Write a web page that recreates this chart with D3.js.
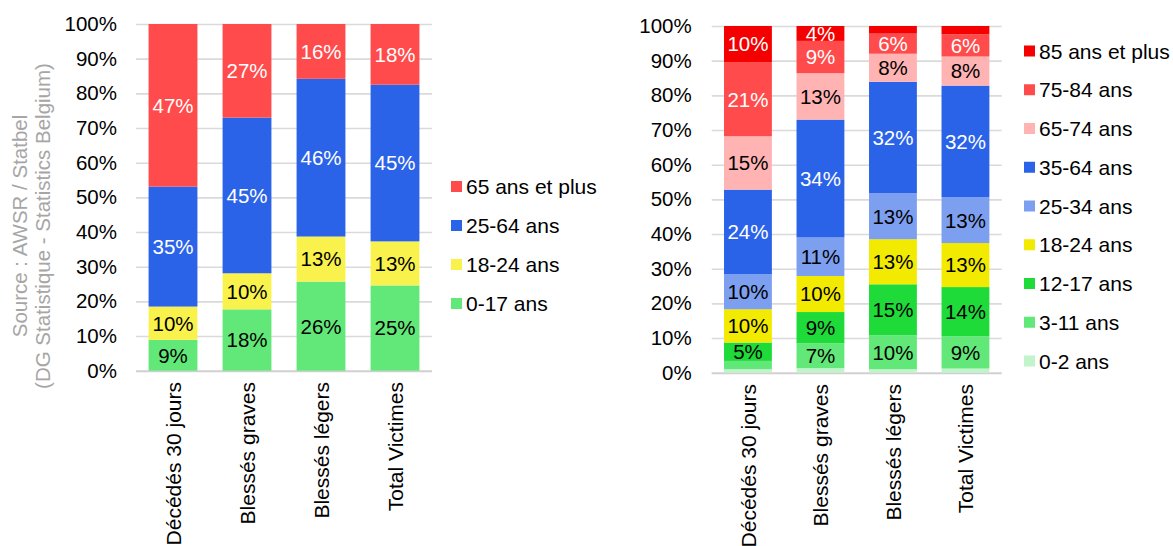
<!DOCTYPE html>
<html>
<head>
<meta charset="utf-8">
<script src="https://cdn.jsdelivr.net/npm/d3@7"></script>
<style>
  body { margin: 0; background: #fff; }
  svg { font-family: "Liberation Sans", Arial, sans-serif; }
</style>
</head>
<body>
<div id="chart"></div>
<script>
// categories (same for both charts)
var categories = ["Décédés 30 jours", "Blessés graves", "Blessés légers", "Total Victimes"];
var yTicks = [0, 10, 20, 30, 40, 50, 60, 70, 80, 90, 100];

// left chart, % per age group (bottom to top)
var leftKeys = ["0-17 ans", "18-24 ans", "25-64 ans", "65 ans et plus"];
var left0_17 = [8.9, 17.7, 25.7, 24.6];
var left18_24 = [9.6, 10.4, 13.0, 12.7];
var left25_64 = [34.6, 44.9, 45.5, 45.2];
var left65plus = [46.9, 27.0, 15.8, 17.5];

// right chart, % per age group (bottom to top)
var rightKeys = ["0-2 ans", "3-11 ans", "12-17 ans", "18-24 ans", "25-34 ans", "35-64 ans", "65-74 ans", "75-84 ans", "85 ans et plus"];
var r0_2 = [1.0, 1.3, 1.0, 1.2];
var r3_11 = [2.4, 7.2, 9.8, 9.3];
var r12_17 = [5.3, 9.0, 14.7, 14.2];
var r18_24 = [9.6, 10.4, 13.0, 12.7];
var r25_34 = [10.1, 11.1, 13.3, 13.2];
var r35_64 = [24.4, 34.0, 32.1, 32.2];
var r65_74 = [15.4, 13.4, 8.1, 8.4];
var r75_84 = [21.4, 9.3, 5.8, 6.4];
var r85plus = [10.4, 4.3, 2.2, 2.4];

var leftColors = ["#62e878", "#f9f24c", "#2b63e8", "#ff4b4b"];
var leftText = ["#000", "#000", "#fff", "#fff"];
var rightColors = ["#c2f4cc", "#62e878", "#1fdb3a", "#f2ea00", "#7d9ff0", "#2b63e8", "#ffb3b3", "#ff4b4b", "#f40000"];
var rightText = ["#000", "#000", "#000", "#000", "#000", "#fff", "#000", "#fff", "#fff"];

function buildRows(series, keys) {
  return categories.map(function(c, i) {
    var row = { cat: c };
    keys.forEach(function(k, j) { row[k] = series[j][i]; });
    return row;
  });
}

var svg = d3.select("#chart").append("svg")
  .attr("width", 1173)
  .attr("height", 546);

function drawChart(opt) {
  var rows = buildRows(opt.series, opt.keys);
  var x = d3.scaleBand().domain(categories).range([opt.x0, opt.x1])
    .paddingInner(0.34).paddingOuter(0.17);
  var y = d3.scaleLinear().domain([0, 100]).range([opt.y0, opt.y1]);

  var g = svg.append("g");

  // gridlines + tick labels
  var axis = g.append("g")
    .attr("transform", "translate(" + opt.x0 + ",0)")
    .call(d3.axisLeft(y).tickValues(yTicks)
      .tickFormat(function(d) { return d + "%"; })
      .tickSize(-(opt.x1 - opt.x0))
      .tickPadding(opt.pad));
  axis.select(".domain").remove();
  axis.selectAll(".tick line")
    .attr("stroke", function(d) { return d === 0 ? "#d0d0d0" : "#dadada"; })
    .attr("stroke-width", function(d) { return d === 0 ? 2 : 1.6; });
  axis.selectAll(".tick text")
    .attr("font-size", "20.5px")
    .attr("fill", "#000")
    .attr("font-family", "Liberation Sans, Arial, sans-serif");

  var stack = d3.stack().keys(opt.keys)(rows);

  var layers = g.selectAll(".layer")
    .data(stack)
    .enter()
    .append("g")
    .attr("fill", function(d, i) { return opt.colors[i]; });

  layers.selectAll("rect")
    .data(function(d) { return d; })
    .enter()
    .append("rect")
    .attr("x", function(d) { return x(d.data.cat); })
    .attr("width", x.bandwidth())
    .attr("y", function(d) { return y(d[1]); })
    .attr("height", function(d) { return y(d[0]) - y(d[1]); });

  // value labels
  stack.forEach(function(layer, i) {
    g.selectAll(null)
      .data(layer.filter(function(d) { return d[1] - d[0] >= 3; }))
      .enter()
      .append("text")
      .attr("x", function(d) { return x(d.data.cat) + x.bandwidth() / 2; })
      .attr("y", function(d) { return y((d[0] + d[1]) / 2); })
      .attr("dy", "0.36em")
      .attr("text-anchor", "middle")
      .attr("font-size", "20.5px")
      .attr("fill", opt.text[i])
      .text(function(d) { return Math.round(d[1] - d[0]) + "%"; });
  });

  // category labels (rotated)
  g.selectAll(".cat")
    .data(categories)
    .enter()
    .append("text")
    .attr("transform", function(d) {
      return "translate(" + (x(d) + x.bandwidth() / 2) + "," + opt.catY + ") rotate(-90)";
    })
    .attr("dy", "0.36em")
    .attr("text-anchor", "end")
    .attr("font-size", "21px")
    .attr("fill", "#000")
    .text(function(d) { return d; });

  // legend (top to bottom = reverse stack order)
  var legKeys = opt.keys.slice().reverse();
  var leg = g.selectAll(".leg")
    .data(legKeys)
    .enter()
    .append("g")
    .attr("transform", function(d, i) {
      return "translate(" + opt.legX + "," + (opt.legY + i * opt.legStep) + ")";
    });
  leg.append("rect")
    .attr("x", 0).attr("y", -5.5)
    .attr("width", 11).attr("height", 11)
    .attr("fill", function(d) { return opt.colors[opt.keys.indexOf(d)]; });
  leg.append("text")
    .attr("x", 15)
    .attr("dy", "0.36em")
    .attr("font-size", "21px")
    .attr("fill", "#000")
    .text(function(d) { return d; });
}

drawChart({
  keys: leftKeys,
  series: [left0_17, left18_24, left25_64, left65plus],
  colors: leftColors, text: leftText,
  x0: 136, x1: 432, y0: 370.7, y1: 24, pad: 19,
  catY: 382, legX: 451, legY: 186.5, legStep: 39
});

drawChart({
  keys: rightKeys,
  series: [r0_2, r3_11, r12_17, r18_24, r25_34, r35_64, r65_74, r75_84, r85plus],
  colors: rightColors, text: rightText,
  x0: 711.7, x1: 1001.7, y0: 372.7, y1: 26, pad: 20,
  catY: 384, legX: 1024, legY: 51, legStep: 38.75
});

// source note
var src = svg.append("text")
  .attr("transform", "translate(27,226) rotate(-90)")
  .attr("text-anchor", "middle")
  .attr("font-size", "20.5px")
  .attr("fill", "#a6a6a6");
src.append("tspan").attr("x", 0).attr("y", 0).text("Source : AWSR / Statbel");
src.append("tspan").attr("x", 0).attr("y", 23).text("(DG Statistique - Statistics Belgium)");
</script>
</body>
</html>
